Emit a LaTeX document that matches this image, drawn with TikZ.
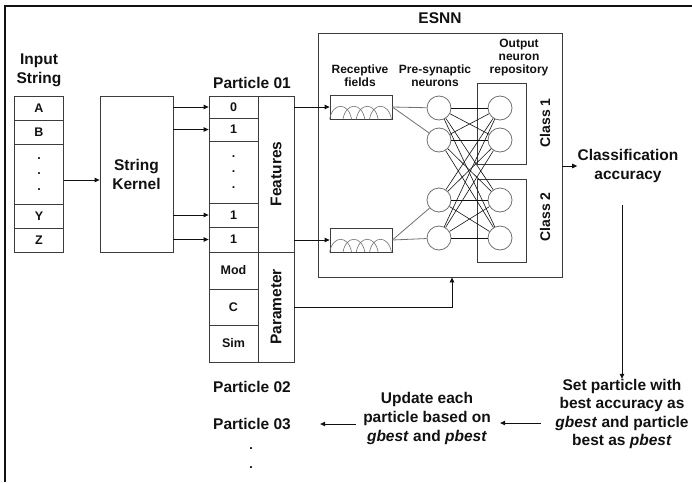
\documentclass[tikz,border=0pt]{standalone}
\usepackage{fontspec}
\setmainfont{Liberation Sans}
\usetikzlibrary{arrows.meta,positioning}
\definecolor{ink}{HTML}{111111}
\definecolor{edge}{HTML}{3C3C3C}
\definecolor{soft}{HTML}{707070}
\newcommand{\bigtxt}{\fontsize{15.5}{19}\selectfont\bfseries}
\newcommand{\midtxt}{\fontsize{12.5}{15.5}\selectfont\bfseries}
\newcommand{\subtxt}{\fontsize{12}{13}\selectfont\bfseries}

\begin{document}
\begin{tikzpicture}[x=1pt,y=-1pt,line width=0.8pt,
   cell/.style={draw=edge,minimum width=49pt,inner sep=0pt,font=\midtxt,text=ink},
   side/.style={draw=edge,minimum width=36pt,inner sep=0pt,font=\bigtxt,text=ink},
   arr/.style={-{Triangle[length=5pt,width=4.5pt]},ink},
   headtxt/.style={font=\bigtxt,align=center,text=ink,inner sep=0pt},
   subhead/.style={font=\subtxt,align=center,text=ink,inner sep=0pt},
   neuron/.style={circle,draw=soft,fill=white,minimum size=24pt,inner sep=0pt},
   rfbox/.style={draw=edge,fill=white,minimum width=62pt,minimum height=24pt,inner sep=0pt},
   classbox/.style={draw=edge,minimum width=49pt,inner sep=0pt}]
  \useasboundingbox (0,0) rectangle (692,482);
  \draw[line width=2pt,ink] (5,482) -- (5,6) -- (692,6);

  % input string
  \node[headtxt] (instr) at (39,70) {Input\\String};
  \node[cell,minimum height=24pt] (ina) at (39,108) {A};
  \node[cell,minimum height=24pt] (inb) at (39,132) {B};
  \node[cell,minimum height=60pt,align=center] (indots) at (39,174) {.\\.\\.};
  \node[cell,minimum height=24pt] (iny) at (39,216) {Y};
  \node[cell,minimum height=24pt] (inz) at (39,240) {Z};

  \node[draw=edge,minimum width=73pt,minimum height=156pt,font=\bigtxt,align=center,text=ink] (kern) at (136.5,174) {String\\Kernel};
  \draw[arr] ([yshift=-6pt]indots.east) -- ([yshift=-6pt]kern.west |- indots.east);

  % particle 01
  \node[headtxt] (p01) at (252,83) {Particle 01};
  \node[cell,minimum height=22pt] (p0) at (233.5,107) {0};
  \node[cell,minimum height=23pt] (p1) at (233.5,129.5) {1};
  \node[cell,minimum height=62pt,align=center] (pdots) at (233.5,172) {.\\.\\.};
  \node[cell,minimum height=24pt] (py) at (233.5,215) {1};
  \node[cell,minimum height=25pt] (pz) at (233.5,239.5) {1};
  \node[cell,minimum height=37pt] (pmod) at (233.5,270.5) {Mod};
  \node[cell,minimum height=36pt] (pc) at (233.5,307) {C};
  \node[cell,minimum height=37pt] (psim) at (233.5,343.5) {Sim};
  \node[side,minimum height=156pt] (feat) at (276,174) {\rotatebox{90}{Features}};
  \node[side,minimum height=110pt] (par) at (276,307) {\rotatebox{90}{Parameter}};
  \foreach \c in {p0,p1,py,pz}
    \draw[arr] (kern.east |- \c.west) -- (\c.west);

  \node[headtxt] (p02) at (252,387) {Particle 02};
  \node[headtxt] (p03) at (252,424) {Particle 03};
  \node[font=\fontsize{12.5}{19}\selectfont\bfseries,align=center,inner sep=0pt] (pmore) at (251,458) {.\\.};

  % esnn
  \node[draw=edge,minimum width=244pt,minimum height=244pt,inner sep=0pt] (esnn) at (440,155) {};
  \node[headtxt,above=9pt of esnn] (esnnlbl) {ESNN};
  \node[subhead] (rflbl) at (360,76) {Receptive\\fields};
  \node[subhead] (prelbl) at (435,76) {Pre-synaptic\\neurons};
  \node[subhead] (outlbl) at (519,58) {Output\\neuron\\repository};

  \node[rfbox] (rf1) at (361,107) {};
  \node[rfbox] (rf2) at (361,240) {};
  \foreach \r in {rf1,rf2}
    \foreach \k in {0,...,3}
      \draw[soft,line width=0.6pt] ([xshift=\k*13.3pt]\r.south west) .. controls +(3,-17.5) and +(-3,-17.5) .. +(22,0);
  \draw[arr] (feat.east |- rf1.west) -- (rf1.west);
  \draw[arr] (feat.east |- rf2.west) -- (rf2.west);
  \draw[arr] (par.east) -| ([xshift=12pt]esnn.south);

  \node[classbox,minimum height=81pt] (cls1) at (501.5,123.5) {};
  \node[classbox,minimum height=83pt] (cls2) at (501.5,220.5) {};
  \node[rotate=90,font=\fontsize{14}{16}\selectfont\bfseries,text=ink,inner sep=0pt] (cls1lbl) at (545,123) {Class 1};
  \node[rotate=90,font=\fontsize{14}{16}\selectfont\bfseries,text=ink,inner sep=0pt] (cls2lbl) at (545,217) {Class 2};

  \foreach \i/\y in {1/108,2/140,3/200,4/238}{
    \node[neuron] (pre\i) at (439,\y) {};
    \node[neuron] (out\i) at (500,\y) {};
  }
  \draw[soft] (rf1.east) -- (pre1);
  \draw[soft] (rf1.east) -- (pre2);
  \draw[soft] (rf2.east) -- (pre3);
  \draw[soft] (rf2.east) -- (pre4);
  \foreach \i in {1,...,4}
    \foreach \j in {1,...,4}
      \draw[ink,line width=0.6pt] (pre\i) -- (out\j);

  % pso loop
  \node[headtxt] (acc) at (628,166) {Classification\\accuracy};
  \draw[arr] (esnn.east |- acc.west) -- (acc.west);
  \node[headtxt,font=\fontsize{15.5}{18.4}\selectfont\bfseries] (best) at (622,414) {Set particle with\\best accuracy as\\\textit{gbest} and particle\\best as \textit{pbest}};
  \coordinate (accbot) at (622,205);
  \draw[arr] (accbot) -- (best.north);
  \node[headtxt] (upd) at (427,418) {Update each\\particle based on\\\textit{gbest} and \textit{pbest}};
  \draw[arr,shorten <=14pt,shorten >=9pt] ([yshift=-9pt]best.west) -- ([yshift=-9pt]best.west -| upd.east);
  \draw[arr,shorten <=7pt,shorten >=29pt] (upd.west |- p03.east) -- (p03.east);
\end{tikzpicture}
\end{document}
